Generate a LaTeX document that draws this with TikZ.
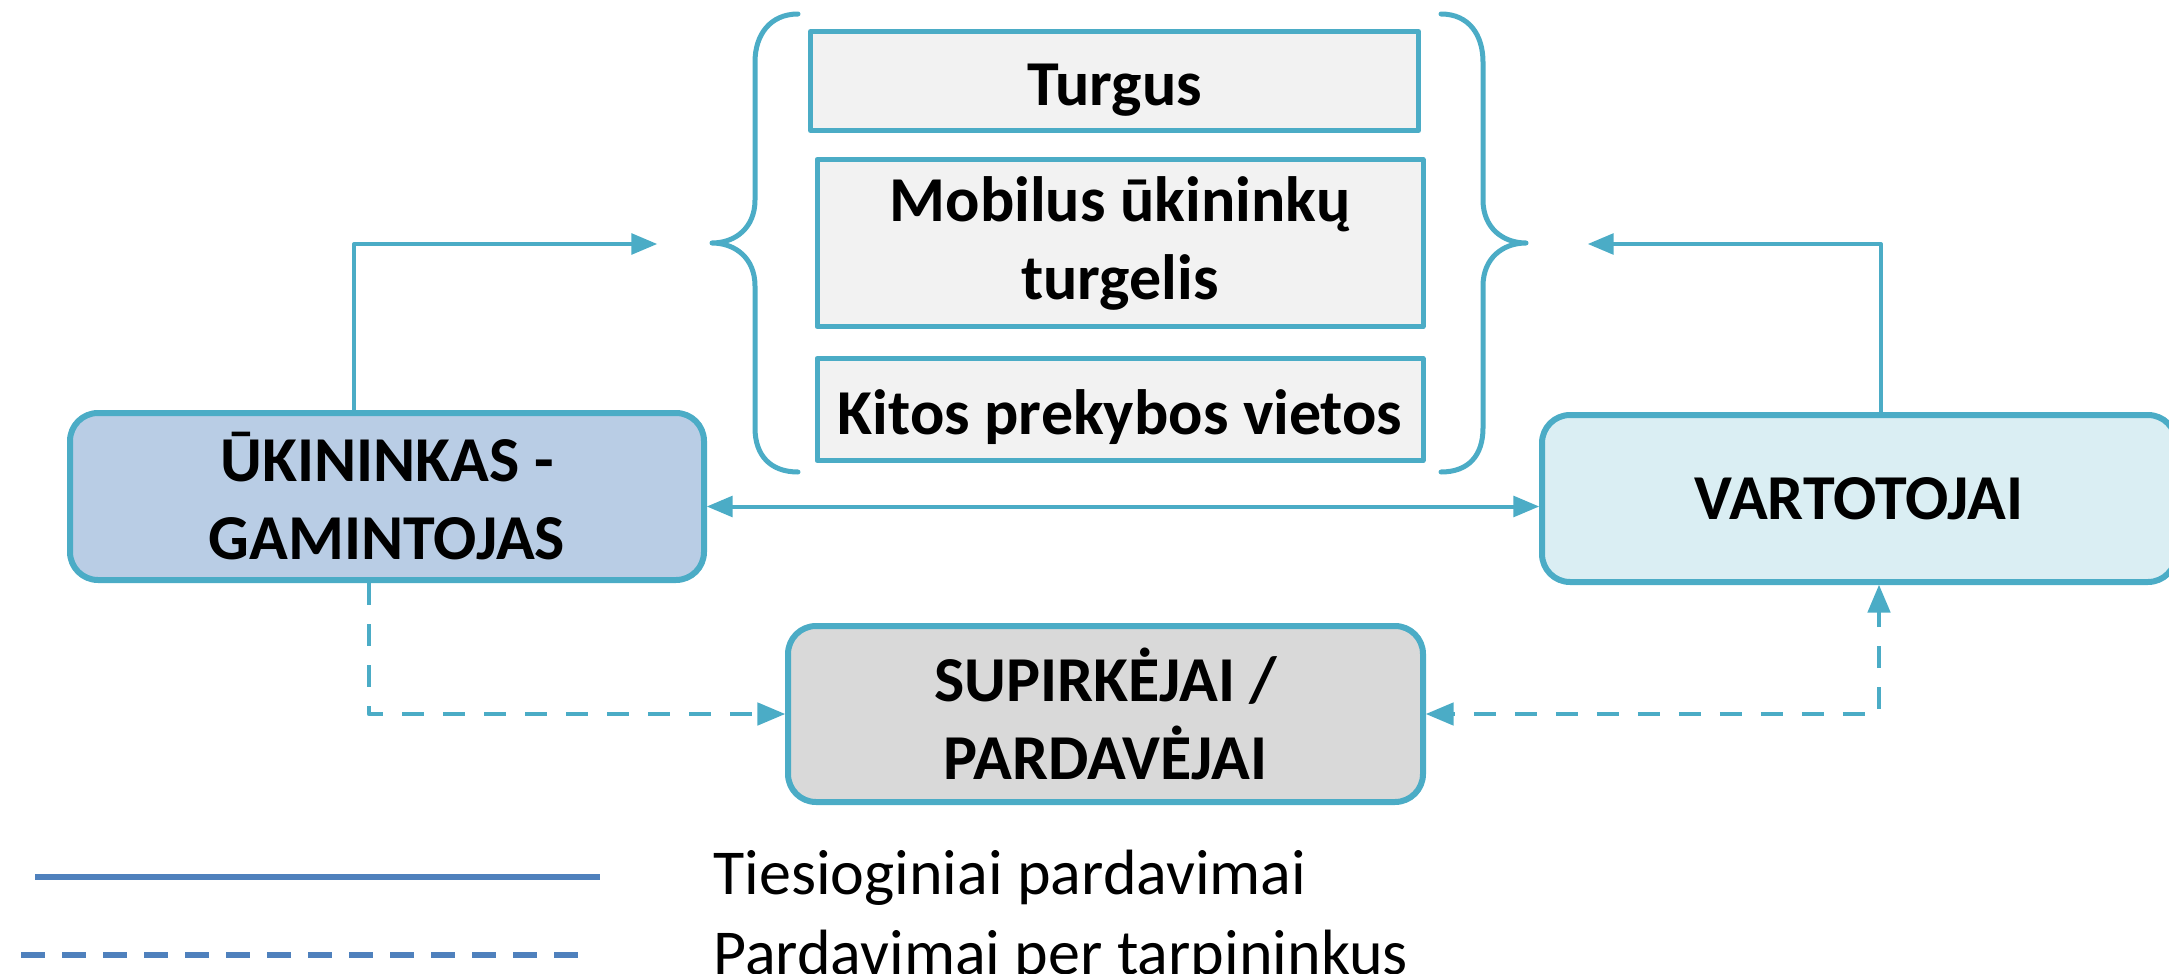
\documentclass[tikz,border=0pt]{standalone}
\usepackage{fontspec}
\setmainfont{Carlito}
\usepackage{tikz}
\usetikzlibrary{arrows}
\definecolor{aqua}{RGB}{75,172,198}
\definecolor{farmfill}{RGB}{185,205,229}
\definecolor{userfill}{RGB}{218,238,243}
\definecolor{buyfill}{RGB}{217,217,217}
\definecolor{placefill}{RGB}{242,242,242}
\definecolor{legblue}{RGB}{79,129,189}

\begin{document}
\begin{tikzpicture}[line join=round,>=triangle 45,x=0.5pt,y=-0.5pt,
  box/.style={draw=aqua,line width=3pt,rounded corners=14pt,align=center,inner sep=0pt,
    font=\bfseries\fontsize{32}{39}\selectfont},
  place/.style={draw=aqua,line width=2.5pt,fill=placefill,align=center,inner sep=0pt,
    minimum width=303pt,font=\bfseries\fontsize{32}{39}\selectfont,
    execute at begin node=\rule{0pt}{30pt}},
  flow/.style={draw=aqua,line width=2pt},
  dflow/.style={draw=aqua,line width=2.25pt,dash pattern=on 11pt off 9.5pt},
  bracepath/.style={draw=aqua,line width=2.5pt,line cap=round}]
\useasboundingbox (0,0) rectangle (2169,974);

% main actors
\node[box,fill=farmfill,minimum width=317pt,minimum height=83.5pt] (farmer) at (387,496.5) {ŪKININKAS -\\GAMINTOJAS};
\node[box,fill=userfill,minimum width=317pt,minimum height=83.5pt] (consumer) at (1859,498.5) {VARTOTOJAI};
\node[box,fill=buyfill,minimum width=317.5pt,minimum height=88pt] (buyer) at (1105.5,714) {SUPIRKĖJAI /\\PARDAVĖJAI};

% selling places
\node[place,minimum width=304pt,minimum height=49.5pt] (market) at (1114.5,81) {Turgus};
\node[place,minimum height=83.5pt] (mobile) at (1120,243) {Mobilus ūkininkų\\turgelis};
\node[place,minimum height=51pt] (other) at (1120,409.5) {Kitos prekybos vietos};

% braces
\draw[bracepath] (798,14) .. controls (770,14) and (755,35) .. (755,62) -- (755,200)
  .. controls (755,228) and (735,243) .. (712,243)
  .. controls (735,243) and (755,258) .. (755,286) -- (755,428)
  .. controls (755,455) and (770,472) .. (798,472);
\draw[bracepath] (1441,14) .. controls (1469,14) and (1483,35) .. (1483,62) -- (1483,200)
  .. controls (1483,228) and (1503,243) .. (1526,243)
  .. controls (1503,243) and (1483,258) .. (1483,286) -- (1483,428)
  .. controls (1483,455) and (1469,472) .. (1441,472);
\coordinate (ltip) at (657,244);
\coordinate (rtip) at (1588,244);

% direct sales
\draw[flow,->] ([xshift=-16.5pt]farmer.north) |- (ltip);
\draw[flow,->] ([xshift=11pt]consumer.north) |- (rtip);
\draw[flow,<->] ([yshift=-5pt]farmer.east) -- ([yshift=-5pt]farmer.east -| consumer.west);

% sales through intermediaries
\draw[dflow,->] ([xshift=-9pt]farmer.south) |- (buyer.west);
\draw[dflow,<->] (buyer.east) -| ([xshift=10pt]consumer.south);

% legend
\node[anchor=base west,font=\fontsize{32}{39}\selectfont,inner sep=0pt] (lgdirect) at (713,894) {Tiesioginiai pardavimai};
\node[anchor=base west,font=\fontsize{32}{39}\selectfont,inner sep=0pt] (lgmiddle) at (713,974) {Pardavimai per tarpininkus};
\draw[legblue,line width=3pt] (35,877) -- (600,877);
\draw[legblue,line width=3pt,dash pattern=on 12pt off 8.5pt] (21,955) -- (588,955);
\end{tikzpicture}
\end{document}
